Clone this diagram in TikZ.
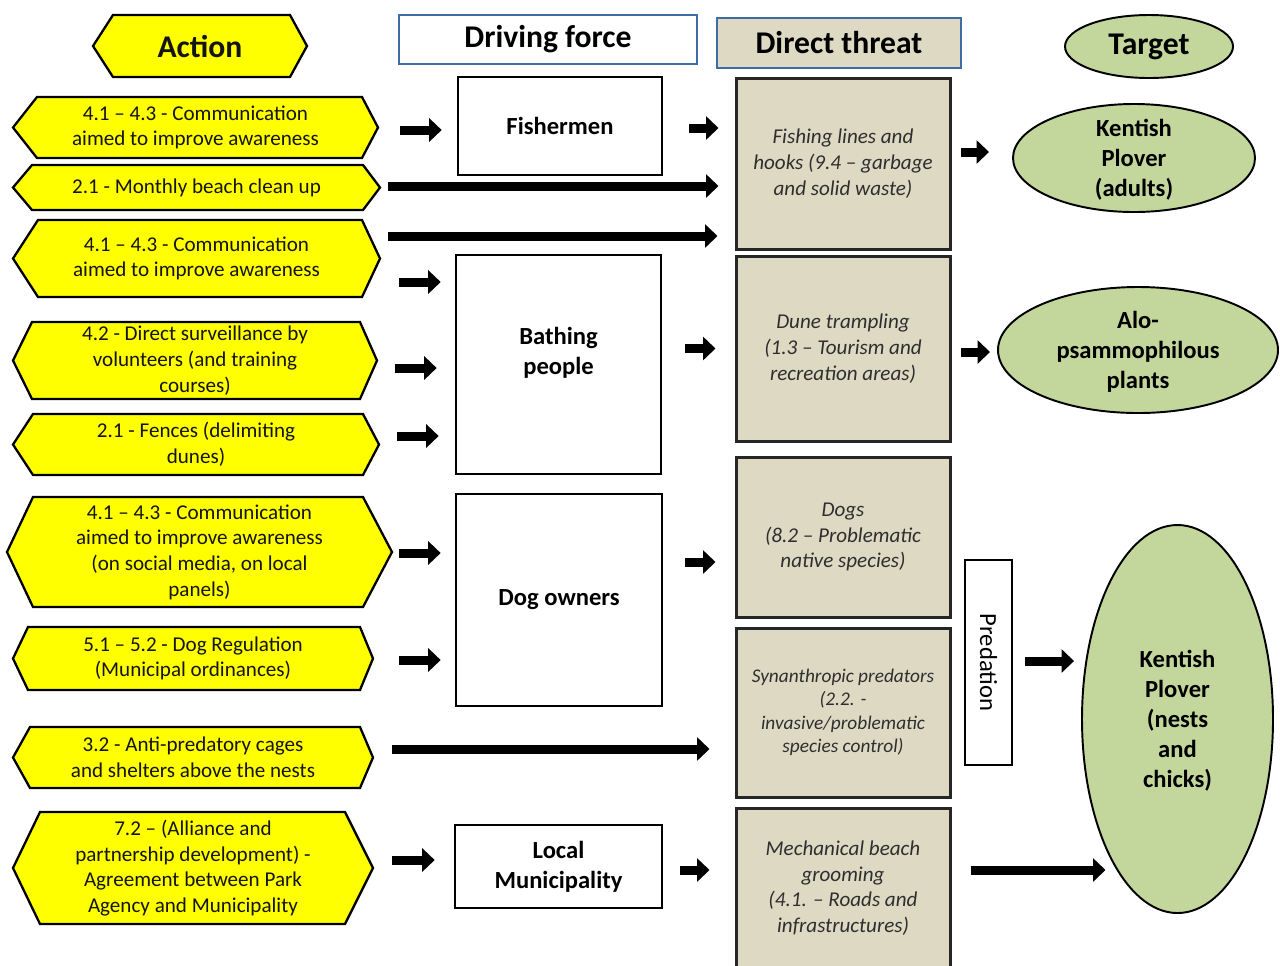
\documentclass[tikz,border=0pt]{standalone}
\usepackage{fontspec}
\setmainfont{Carlito}
\usetikzlibrary{arrows.meta,calc,shapes.geometric}

\definecolor{hexyellow}{HTML}{FFFF00}
\definecolor{threattan}{HTML}{DDD9C3}
\definecolor{targetgreen}{HTML}{C3D69B}
\definecolor{headblue}{HTML}{3E6CA6}
\definecolor{threattext}{HTML}{2E2E2E}

\tikzset{
  sz/.style 2 args={minimum width=#1*0.02cm, minimum height=#2*0.02cm},
  hexshape/.style={fill=hexyellow, draw=black, line width=1.3pt, line join=miter},
  hextext/.style={inner sep=0pt, align=center, text=black!92,
    font=\fontsize{12}{14.6}\selectfont},
  dftext/.style={inner sep=0pt, align=center, font=\fontsize{14}{17}\selectfont\bfseries},
  dfbox/.style={draw=black, line width=1.5pt, fill=white, dftext},
  thrbox/.style={draw=black!85, line width=1.7pt, fill=threattan, inner sep=0pt,
    align=center, text=threattext, font=\fontsize{12}{14.6}\selectfont\itshape},
  target/.style={ellipse, draw=black, line width=1.1pt, fill=targetgreen, inner sep=0pt},
  header/.style={draw=headblue, line width=1.2pt, inner sep=0pt,
    font=\fontsize{18}{22}\selectfont\bfseries},
  predbox/.style={draw=black, line width=1.2pt, fill=white, inner sep=0pt,
    font=\fontsize{14}{17}\selectfont},
  arr/.style={line width=0.18cm, -{Triangle[length=0.25cm,width=0.46cm]}},
}

% yellow action hexagon: name, x1, x2, y1, y2, left tip depth, right tip depth, text
\newcommand\hexnode[8]{%
  \path[hexshape] (#2,{(#4+#5)/2}) -- ({#2+#6},#4) -- ({#3-#7},#4) -- (#3,{(#4+#5)/2})
    -- ({#3-#7},#5) -- ({#2+#6},#5) -- cycle;
  \node[hextext, minimum width={(#3-#2)*0.02cm}, minimum height={(#5-#4)*0.02cm}]
    (#1) at ({(#2+#3)/2},{(#4+#5)/2}) {#8};
}

\begin{document}
\begin{tikzpicture}[x=0.02cm, y=-0.02cm]
\useasboundingbox (0,0) rectangle (1280,965);
\fill[white] (0,0) rectangle (1280,965);

% column headers
\hexnode{act}{93}{307}{15}{77}{20}{17}{\fontsize{18}{22}\selectfont\bfseries Action}
\node[header, sz={298}{49}] (hdf) at (548,39.5) {\raisebox{-2.5pt}{Driving force}};
\node[header, fill=threattan, sz={244}{50}] (hdt) at (839,43) {\raisebox{-1pt}{Direct threat}};
\node[target, sz={168}{63}, font=\fontsize{18}{22}\selectfont\bfseries] (htg) at (1149,46.5) {\raisebox{-1.5pt}{Target}};

% actions
\hexnode{a1}{13}{378}{97}{158}{24}{16}{4.1 – 4.3 - Communication\\aimed to improve awareness}
\hexnode{a2}{13}{380}{165}{210}{19}{17}{2.1 - Monthly beach clean up}
\hexnode{a3}{13}{380}{220}{297}{25}{18}{4.1 – 4.3 - Communication\\aimed to improve awareness}
\hexnode{a4}{13}{377}{322}{399}{19}{17}{4.2 - Direct surveillance by\\volunteers (and training\\courses)}
\hexnode{a5}{13}{379}{414}{475}{20}{16}{2.1 - Fences (delimiting\\dunes)}
\hexnode{a6}{7}{392}{497}{607}{26}{29}{4.1 – 4.3 - Communication\\aimed to improve awareness\\(on social media, on local\\panels)}
\hexnode{a7}{13}{373}{627}{690}{15}{13}{5.1 – 5.2 - Dog Regulation\\(Municipal ordinances)}
\hexnode{a8}{13}{373}{727}{788}{17}{13}{3.2 - Anti-predatory cages\\and shelters above the nests}
\hexnode{a9}{13}{373}{812}{924}{27}{28}{7.2 – (Alliance and\\partnership development) -\\Agreement between Park\\Agency and Municipality}

% driving forces
\node[dfbox, sz={204}{98}] (fish) at (560,126) {Fishermen};
\node[dfbox, sz={205}{219}] (bath) at (558.5,364.5) {};
\node[dftext] (bathlbl) at ($(bath.center)+(0,-12)$) {Bathing\\people};
\node[dfbox, sz={206}{212}] (dog) at (559,600) {Dog owners};
\node[dfbox, sz={207}{83}] (muni) at (558.5,866.5) {Local\\Municipality};

% direct threats
\node[thrbox, sz={214}{171}] (thr1) at (843,163.5) {Fishing lines and\\hooks (9.4 – garbage\\and solid waste)};
\node[thrbox, sz={214}{185}] (thr2) at (843,348.5) {Dune trampling\\(1.3 – Tourism and\\recreation areas)};
\node[thrbox, sz={214}{160}] (thr3) at (843,537) {Dogs\\(8.2 – Problematic\\native species)};
\node[thrbox, sz={214}{169}, font=\fontsize{11}{13.4}\selectfont\itshape] (thr4) at (843,712.5)
  {Synanthropic predators\\(2.2. -\\invasive/problematic\\species control)};
\node[thrbox, sz={214}{160}] (thr5) at (843,888) {Mechanical beach\\grooming\\(4.1. – Roads and\\infrastructures)};
\node[predbox, rotate=-90, sz={205}{47}] (pred) at (988.5,662.5) {Predation};

% targets
\node[target, sz={242}{108}] (kp1) at (1134,158) {};
\node[dftext] (kp1lbl) at ($(kp1.center)+(0,1.5)$) {Kentish\\Plover\\(adults)};
\node[target, sz={280}{126}] (alo) at (1138,350) {};
\node[dftext] (alolbl) at ($(alo.center)+(0,1.5)$) {Alo-\\psammophilous\\plants};
\node[target, sz={191}{388}] (nests) at (1177.5,719) {};
\node[dftext] (nestslbl) at ($(nests.center)+(0,1.5)$) {Kentish\\Plover\\(nests\\and\\chicks)};

% action -> driving force / threat
\draw[arr] ($(a1.east)+(22,2.5)$) -- ($(a1.east -| fish.west)+(-15,2.5)$);
\draw[arr] ($(a2.east)+(8,-1.5)$) -- ($(a2.east -| thr1.west)+(-16,-1.5)$);
\draw[arr] ($(a3.east)+(8,-22.5)$) -- ($(a3.east -| thr1.west)+(-17,-22.5)$);
\draw[arr] ($(a3.east)+(19,23.5)$) -- ($(a3.east -| bath.west)+(-14,23.5)$);
\draw[arr] ($(a4.east)+(18,7.5)$) -- ($(a4.east -| bath.west)+(-18,7.5)$);
\draw[arr] ($(a5.east)+(18,-8.5)$) -- ($(a5.east -| bath.west)+(-16,-8.5)$);
\draw[arr] ($(a6.east)+(7,1)$) -- ($(a6.east -| dog.west)+(-14,1)$);
\draw[arr] ($(a7.east)+(26,1.5)$) -- ($(a7.east -| dog.west)+(-14,1.5)$);
\draw[arr] ($(a8.east)+(19,-8.5)$) -- ($(a8.east -| thr4.west)+(-25,-8.5)$);
\draw[arr] ($(a9.east)+(19,-8)$) -- ($(a9.east -| muni.west)+(-19,-8)$);

% driving force -> threat
\draw[arr] ($(fish.east)+(26,2)$) -- ($(fish.east -| thr1.west)+(-16,2)$);
\draw[arr] ($(bath.east |- thr2.west)+(23,0)$) -- ($(thr2.west)+(-19,0)$);
\draw[arr] ($(dog.east |- thr3.west)+(22,25)$) -- ($(thr3.west)+(-19,25)$);
\draw[arr] ($(muni.east)+(17,3.5)$) -- ($(muni.east -| thr5.west)+(-25,3.5)$);

% threat -> target
\draw[arr] ($(thr1.east)+(9,-11.5)$) -- ($(thr1.east -| kp1.west)+(-23,-11.5)$);
\draw[arr] ($(thr2.east)+(9,3.5)$) -- ($(thr2.east -| alo.west)+(-7,3.5)$);
\draw[arr] ($(pred.center)+(36.5,-1.5)$) -- ($(pred.center -| nests.west)+(-7,-1.5)$);
\draw[arr] ($(thr5.east)+(19,-18)$) -- ($(nests.center)+(-72,151)$);
\end{tikzpicture}
\end{document}
